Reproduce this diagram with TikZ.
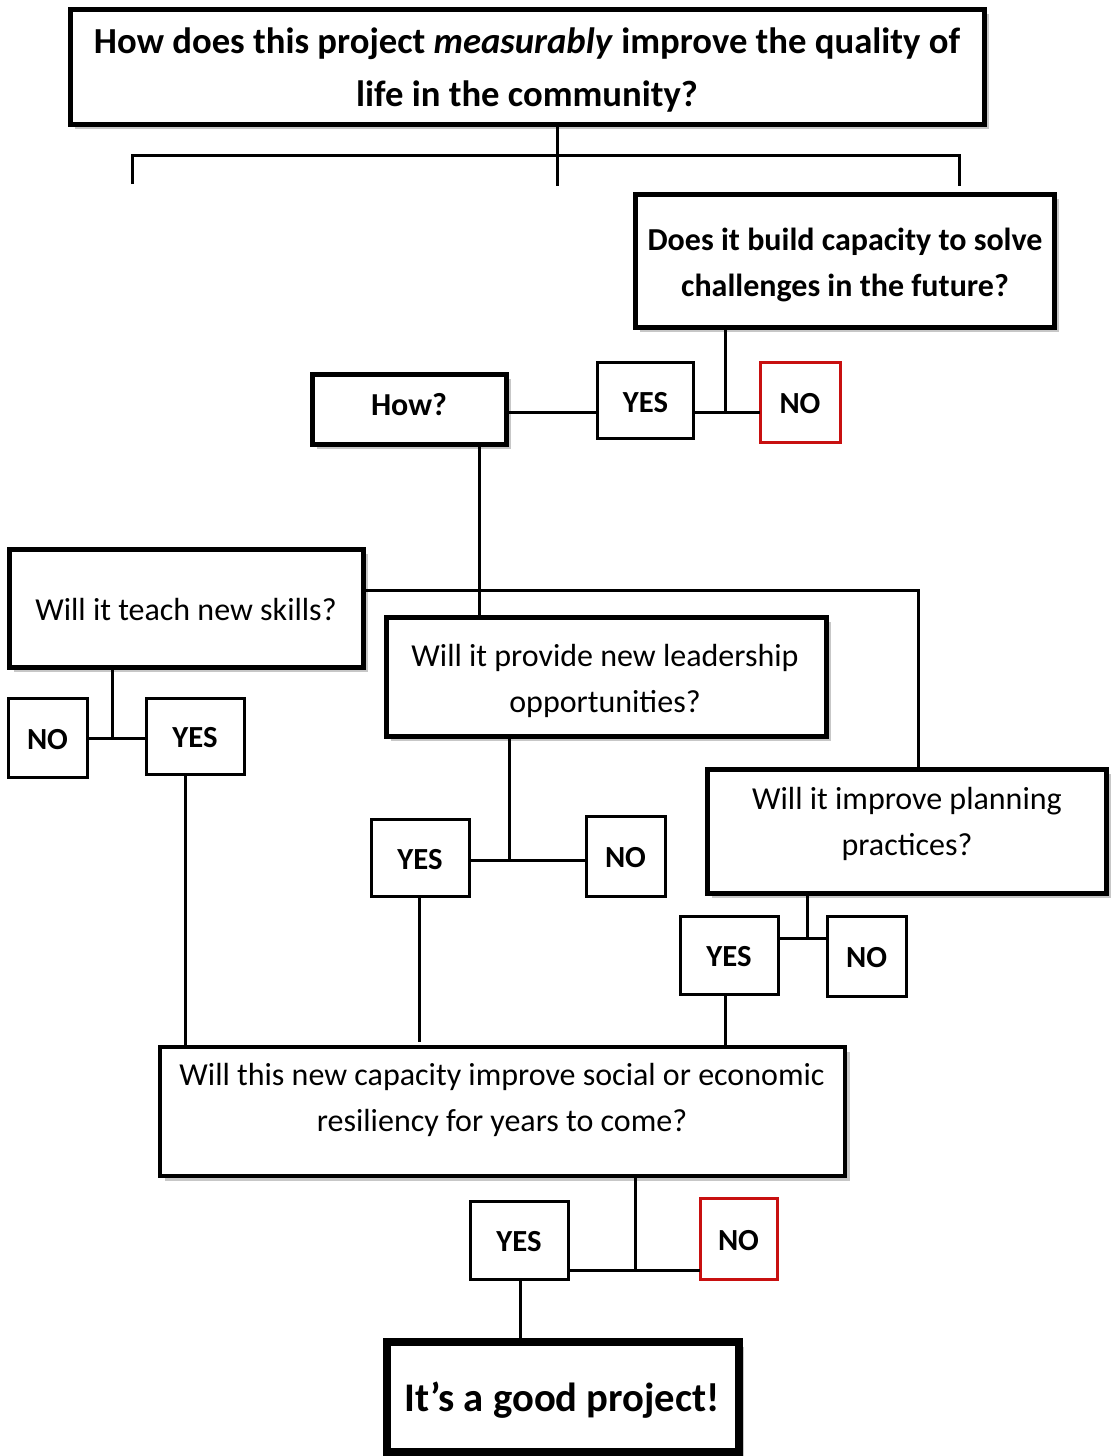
\documentclass[tikz,border=0pt]{standalone}
\usepackage{fontspec}
\setmainfont{Carlito}
\usetikzlibrary{fit,shadows}
\definecolor{nored}{RGB}{200,16,16}
\begin{document}
\begin{tikzpicture}[x=0.75pt,y=-0.75pt,
  shadowed/.style={drop shadow={shadow xshift=3.5pt, shadow yshift=-3.5pt, fill=black, opacity=0.22}},
  bigbox/.style={draw, line width=3.75pt, fill=white, inner sep=0pt, outer sep=0pt, shadowed},
  ynbox/.style={draw, line width=2.25pt, fill=white, inner sep=0pt, outer sep=0pt},
  redbox/.style={ynbox, draw=nored},
  conn/.style={line width=2.25pt},
  txt/.style={align=center, inner sep=0pt, font=\fontsize{24}{35}\selectfont},
  btxt/.style={align=center, inner sep=0pt, font=\fontsize{24}{35}\selectfont\bfseries},
  yntxt/.style={inner sep=0pt, yshift=-1.5pt, font=\fontsize{23}{28}\selectfont\bfseries}]
\useasboundingbox (0,0) rectangle (1110,1456);

% boxes
\node[bigbox, fit={(70,9)(984,124)}] (top) {};
\node[align=center, inner sep=0pt, font=\fontsize{27.5}{39.75}\selectfont\bfseries] at (527,70) {How does this project \textit{measurably} improve the quality of\\life in the community?};

\node[bigbox, fit={(635.5,194.5)(1054.5,327.5)}] (does) {};
\node[btxt] at (845,265) {Does it build capacity to solve\\challenges in the future?};

\node[ynbox, fit={(597.5,362.5)(693.5,438.5)}] (yesA) {};
\node[yntxt] at (yesA.center) {YES};
\node[redbox, fit={(760,362)(840,442)}] (noA) {};
\node[yntxt] at (noA.center) {NO};

\node[bigbox, fit={(312,374)(506,444)}] (how) {};
\node[btxt] at (409,405) {How?};

\node[bigbox, fit={(9,549)(363,667)}] (teach) {};
\node[txt] at (186,609) {Will it teach new skills?};

\node[ynbox, fit={(8,698)(87,777)}] (noB) {};
\node[yntxt] at (noB.center) {NO};
\node[ynbox, fit={(146,698)(244,774)}] (yesB) {};
\node[yntxt] at (yesB.center) {YES};

\node[bigbox, fit={(386,617)(826,736)}] (lead) {};
\node[txt] at (605,681) {Will it provide new leadership\\opportunities?};

\node[ynbox, fit={(371,819)(469,896)}] (yesC) {};
\node[yntxt] at (yesC.center) {YES};
\node[ynbox, fit={(586,816)(665,896)}] (noC) {};
\node[yntxt] at (noC.center) {NO};

\node[bigbox, fit={(707,769)(1106,893)}] (plan) {};
\node[txt] at (907,824) {Will it improve planning\\practices?};

\node[ynbox, fit={(680,916)(778,994)}] (yesD) {};
\node[yntxt] at (yesD.center) {YES};
\node[ynbox, fit={(827,916)(906,996)}] (noD) {};
\node[yntxt] at (noD.center) {NO};

\node[bigbox, line width=3pt, fit={(160,1047)(845,1176)}] (res) {};
\node[txt] at (502,1100) {Will this new capacity improve social or economic\\resiliency for years to come?};

\node[ynbox, fit={(470,1201)(568,1279)}] (yesE) {};
\node[yntxt] at (yesE.center) {YES};
\node[redbox, fit={(700,1198)(777,1279)}] (noE) {};
\node[yntxt] at (noE.center) {NO};

\node[bigbox, line width=6pt, fit={(387,1342)(739,1452)}] (good) {};
\node[align=center, inner sep=0pt, font=\fontsize{30.5}{36}\selectfont\bfseries] at (562,1400) {It’s a good project!};

% connectors
\coordinate (s0) at (557,186);
\coordinate (bl) at (132,184);
\coordinate (br) at (959,186);
\draw[conn] (s0 |- top.south) -- (s0);
\draw[conn] (bl) -- (bl |- 0,155) -- (br |- 0,155) -- (br);

\coordinate (j1) at (725,412);
\draw[conn] (j1 |- does.south) -- (j1);
\draw[conn] (yesA.east |- j1) -- (noA.west |- j1);
\draw[conn] (how.east |- j1) -- (yesA.west |- j1);

\coordinate (j2) at (479,620);
\draw[conn] (j2 |- how.south) -- (j2);

\coordinate (j3) at (918,590);
\draw[conn] (teach.east |- j3) -- (j3) -- (plan.north -| j3);

\coordinate (j4) at (112,738);
\draw[conn] (j4 |- teach.south) -- (j4);
\draw[conn] (noB.east |- j4) -- (yesB.west |- j4);
\coordinate (d1) at (185,0);
\draw[conn] (yesB.south -| d1) -- (res.north -| d1);

\coordinate (j5) at (509,860);
\draw[conn] (j5 |- lead.south) -- (j5);
\draw[conn] (yesC.east |- j5) -- (noC.west |- j5);
\coordinate (d2) at (419,1042);
\draw[conn] (yesC.south -| d2) -- (d2);

\coordinate (j6) at (807,938);
\draw[conn] (j6 |- plan.south) -- (j6);
\draw[conn] (yesD.east |- j6) -- (noD.west |- j6);
\coordinate (d3) at (725,0);
\draw[conn] (yesD.south -| d3) -- (res.north -| d3);

\coordinate (j7) at (635,1270);
\draw[conn] (j7 |- res.south) -- (j7);
\draw[conn] (yesE.east |- j7) -- (noE.west |- j7);
\coordinate (d4) at (520,1345);
\draw[conn] (yesE.south -| d4) -- (d4);
\end{tikzpicture}
\end{document}
